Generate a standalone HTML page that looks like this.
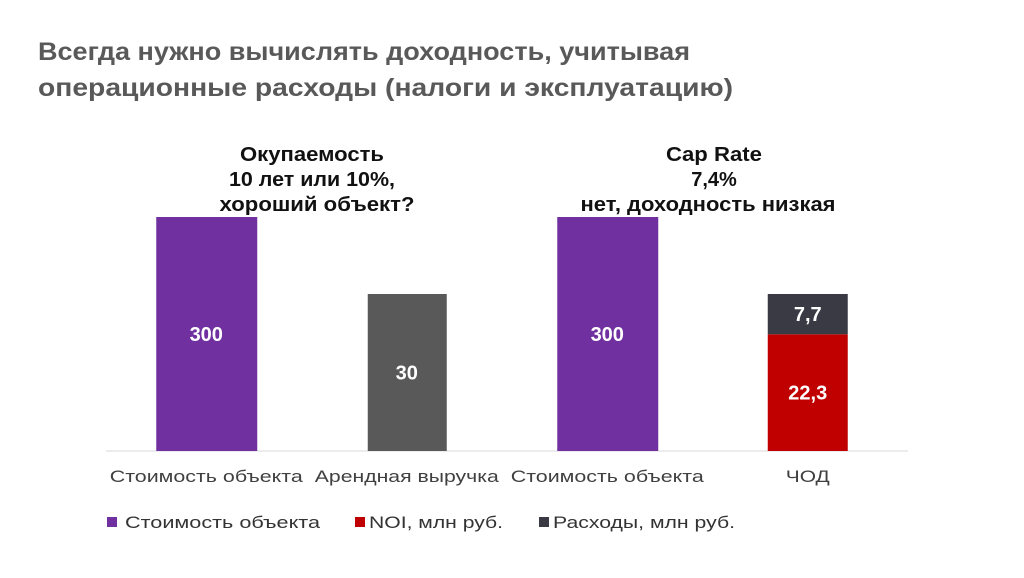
<!DOCTYPE html>
<html><head><meta charset="utf-8"><style>
body{margin:0;width:1024px;height:573px;background:#fff;font-family:"Liberation Sans","DejaVu Sans",sans-serif;overflow:hidden}
</style></head><body>
<svg width="1024" height="573" id="c">
<text x="38" y="60" font-size="25" font-weight="bold" fill="#595959" textLength="652" lengthAdjust="spacingAndGlyphs">Всегда нужно вычислять доходность, учитывая</text>
<text x="38" y="96" font-size="25" font-weight="bold" fill="#595959" textLength="695" lengthAdjust="spacingAndGlyphs">операционные расходы (налоги и эксплуатацию)</text>
<g font-size="20" font-weight="bold" fill="#111" text-anchor="middle">
<text x="312" y="161" textLength="144" lengthAdjust="spacingAndGlyphs">Окупаемость</text>
<text x="312" y="186" textLength="166" lengthAdjust="spacingAndGlyphs">10 лет или 10%,</text>
<text x="317" y="211" textLength="195" lengthAdjust="spacingAndGlyphs">хороший объект?</text>
<text x="714" y="161" textLength="96" lengthAdjust="spacingAndGlyphs">Cap Rate</text>
<text x="714" y="186">7,4%</text>
<text x="708" y="211" textLength="255" lengthAdjust="spacingAndGlyphs">нет, доходность низкая</text>
</g>
<line x1="106" y1="451" x2="908" y2="451" stroke="#d9d9d9"/>
<g id="bars"></g>
<g font-size="17" fill="#333">
<rect x="107" y="517" width="10" height="10" fill="#7030a0"/>
<text x="125" y="528" textLength="195" lengthAdjust="spacingAndGlyphs">Стоимость объекта</text>
<rect x="355" y="517" width="10" height="10" fill="#c00000"/>
<text x="369" y="528" textLength="134" lengthAdjust="spacingAndGlyphs">NOI, млн руб.</text>
<rect x="539" y="517" width="10" height="10" fill="#3a3a44"/>
<text x="553" y="528" textLength="182" lengthAdjust="spacingAndGlyphs">Расходы, млн руб.</text>
</g>
</svg>
<script>
const categories=["Стоимость объекта","Арендная выручка","Стоимость объекта","ЧОД"];
const costValues=[300,null,300,null];
const revenueValues=[null,30,null,null];
const noiValues=[null,null,null,22.3];
const expenseValues=[null,null,null,7.7];
const labelWidths=[193,184,193,44];
const ns="http://www.w3.org/2000/svg",g=document.getElementById('bars'),svg=document.getElementById('c');
const x0=106,cw=200.5,base=451;
const yP=v=>base-v*234/300, yS=v=>base-v*157/30;
function rect(x,y,w,h,f,n){const r=document.createElementNS(ns,'rect');r.setAttribute('x',x);r.setAttribute('y',y);r.setAttribute('width',w);r.setAttribute('height',h);r.setAttribute('fill',f);


g.appendChild(r);}
function txt(x,y,s,f,sz,fw,n,tl){const t=document.createElementNS(ns,'text');t.setAttribute('x',x);t.setAttribute('y',y);t.setAttribute('fill',f);t.setAttribute('font-size',sz);t.setAttribute('text-anchor','middle');if(fw)t.setAttribute('font-weight',fw);if(tl){t.setAttribute('textLength',tl);t.setAttribute('lengthAdjust','spacingAndGlyphs');}t.textContent=s;


svg.appendChild(t);}
categories.forEach((c,i)=>{
 const cx=x0+cw*(i+0.5);
 if(costValues[i]!=null){const y=yP(costValues[i]);rect(cx-50,y,101,base-y,'#7030a0','bar-cost-'+i);txt(cx,(y+base)/2+7,String(costValues[i]),'#fff',20,'bold','bar-label-cost-'+i);}
 if(revenueValues[i]!=null){const y=yS(revenueValues[i]);rect(cx-39,y,79,base-y,'#595959','bar-revenue');txt(cx,(y+base)/2+7,String(revenueValues[i]),'#fff',20,'bold','bar-label-revenue');}
 if(noiValues[i]!=null){const y=yS(noiValues[i]);rect(cx-40,y,80,base-y,'#c00000','bar-noi');txt(cx,(y+base)/2+7,String(noiValues[i]).replace('.',','),'#fff',20,'bold','bar-label-noi');
  const y2=yS(noiValues[i]+expenseValues[i]);rect(cx-40,y2,80,y-y2,'#3a3a44','bar-expenses');txt(cx,(y2+y)/2+7,String(expenseValues[i]).replace('.',','),'#fff',20,'bold','bar-label-expenses');}
 txt(cx,482,c,'#404040',17,null,'x-label-'+i,labelWidths[i]);
});
</script>
</body></html>
